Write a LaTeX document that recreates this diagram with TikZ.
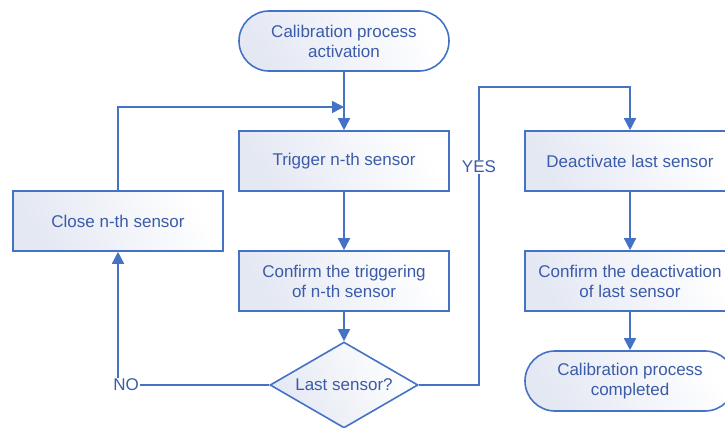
\documentclass[tikz,border=0pt]{standalone}
\usepackage{fontspec}
\setmainfont{Liberation Sans}
\usetikzlibrary{shapes.geometric,arrows.meta}

\definecolor{flowline}{RGB}{68,114,196}
\definecolor{flowtext}{RGB}{59,91,168}
\definecolor{flowfill}{RGB}{228,232,243}

\tikzset{
  stepbox/.style={draw=flowline, line width=1.6pt, shading=axis,
    top color=white, bottom color=flowfill, shading angle=-60,
    minimum width=210pt, minimum height=60pt, align=center,
    text=flowtext, inner sep=2pt},
  endbox/.style={stepbox, rounded corners=30pt},
  testbox/.style={stepbox, diamond, shape aspect=1.72, minimum width=148pt,
    minimum height=86pt, inner sep=0pt},
  flow/.style={draw=flowline, line width=1.6pt},
  flowarrow/.style={flow, -{Triangle[length=12pt,width=12pt]}},
  answer/.style={text=flowtext, inner sep=1pt}
}

\begin{document}
\begin{tikzpicture}[x=1pt, y=-1pt, font=\fontsize{17}{20}\selectfont]
      \clip (0,0) rectangle (725,428);

      % Left column
      \node[endbox] (start) at (344,41) {Calibration process\\activation};
      \node[stepbox] (trigger) at (344,161) {Trigger n-th sensor};
      \node[stepbox] (confirm) at (344,281) {Confirm the triggering\\of n-th sensor};
      \node[testbox] (last) at (344,385) {Last sensor?};
      \node[stepbox] (close) at (118,221) {Close n-th sensor};

      % Right column
      \node[stepbox] (deact) at (630,161) {Deactivate last sensor};
      \node[stepbox] (confdeact) at (630,281) {Confirm the deactivation\\of last sensor};
      \node[endbox] (done) at (630,381) {Calibration process\\completed};

      % Answers
      \node[answer] (no) at (126,385) {NO};
      \node[answer] (yes) at (479,167) {YES};

      \coordinate (join) at (344,107);
      \coordinate (top) at (479,87);

      % Arcs
      \draw[flowarrow] (start) -- (trigger);
      \draw[flowarrow] (trigger) -- (confirm);
      \draw[flowarrow] (confirm) -- (last);
      \draw[flowarrow] (close.north) |- (join);

      \draw[flow] (last.west) -- (no.east);
      \draw[flowarrow] (no.north -| close) -- (close.south);

      \draw[flow] (last.east) -| (yes.south);
      \draw[flowarrow] (yes.north) -- (top) -| (deact.north);
      \draw[flowarrow] (deact) -- (confdeact);
      \draw[flowarrow] (confdeact) -- (done);
\end{tikzpicture}
\end{document}
